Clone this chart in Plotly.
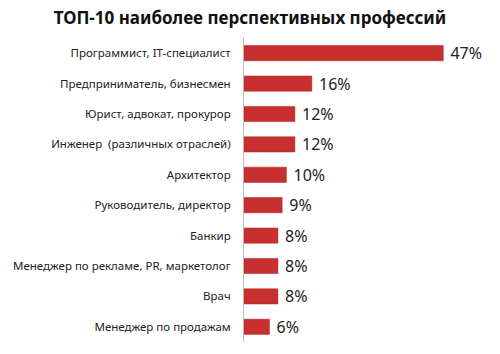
import plotly.graph_objects as go

categories = [
    "Программист, IT-специалист",
    "Предприниматель, бизнесмен",
    "Юрист, адвокат, прокурор",
    "Инженер  (различных отраслей)",
    "Архитектор",
    "Руководитель, директор",
    "Банкир",
    "Менеджер по рекламе, PR, маркетолог",
    "Врач",
    "Менеджер по продажам",
]
values = [47, 16, 12, 12, 10, 9, 8, 8, 8, 6]
labels = [f"{v}%" for v in values]

fig = go.Figure(
    go.Bar(
        x=values,
        y=categories,
        orientation="h",
        text=[" " + t for t in labels],
        textposition="outside",
        constraintext="none",
        cliponaxis=False,
        textfont=dict(family="Noto Sans", size=16, color="#222222"),
        marker=dict(color="#C8302F", line=dict(color="#A82020", width=0.5)),
        width=0.5,
    )
)

fig.update_layout(
    width=500,
    height=354,
    paper_bgcolor="white",
    plot_bgcolor="white",
    margin=dict(l=244, r=44, t=38, b=12),
    title=dict(
        text="<b>ТОП-10 наиболее перспективных профессий</b>",
        x=0.5,
        xanchor="center",
        y=0.95,
        yanchor="middle",
        font=dict(family="Noto Sans", size=17, color="#111111"),
    ),
    showlegend=False,
)
fig.update_xaxes(range=[0, 50], visible=False)
fig.update_yaxes(
    autorange="reversed",
    showline=True,
    linecolor="#BBBBBB",
    linewidth=1,
    ticks="",
    ticklabelstandoff=10,
    tickfont=dict(family="Noto Sans", size=11.5, color="#222222"),
    showgrid=False,
)

fig.write_html("out.html")
